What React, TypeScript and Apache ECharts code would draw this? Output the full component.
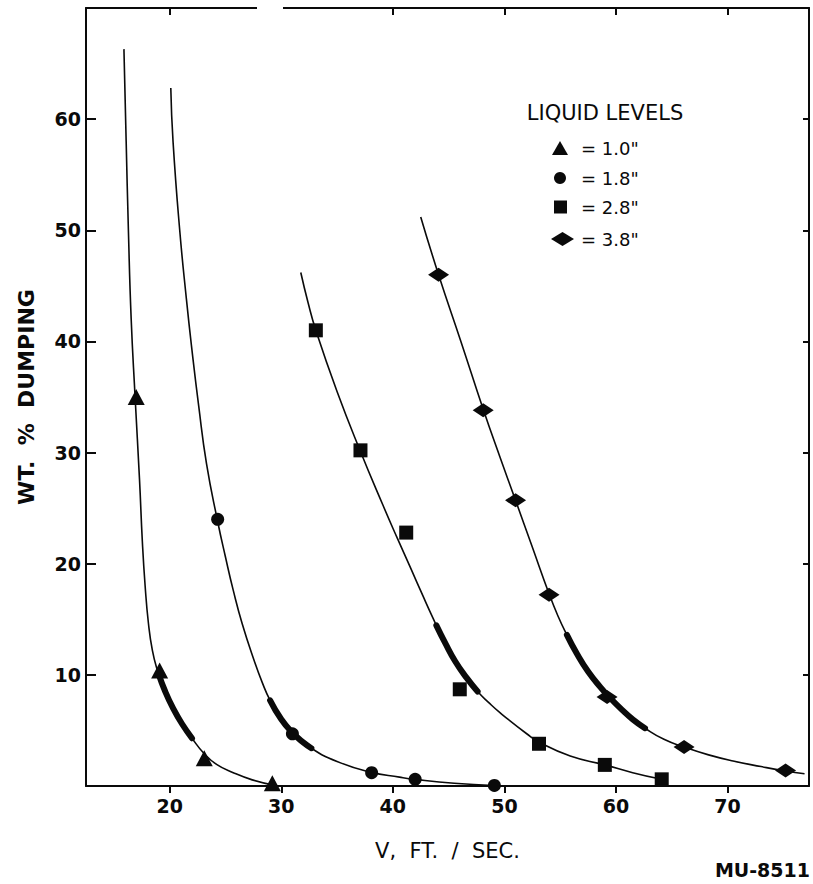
import React, { useEffect, useRef } from "react";
import * as echarts from "echarts";

const FONT = '"DejaVu Sans", Verdana, sans-serif';
const INK = "#0a0a0a";

// axis ticks / labels
const xTicks = [20, 30, 40, 50, 60, 70];
const xTopTicks = [20, 40, 50, 60, 70];
const yTicks = [10, 20, 30, 40, 50, 60];

// legend / series names
const seriesNames = ['1.0"', '1.8"', '2.8"', '3.8"'];

// measured points (V ft/sec, wt % dumping)
const pts10 = [[17, 35], [19.1, 10.4], [23.1, 2.5], [29.2, 0.25]];
const pts18 = [[24.3, 24], [31, 4.7], [38.1, 1.2], [42, 0.6], [49.1, 0.05]];
const pts28 = [[33.1, 41], [37.1, 30.2], [41.2, 22.8], [46, 8.7], [53.1, 3.8], [59, 1.9], [64.1, 0.6]];
const pts38 = [[44.1, 46], [48.1, 33.8], [51, 25.7], [54, 17.2], [59.2, 8], [66.1, 3.5], [75.2, 1.4]];

// faired curves
const curve10 = [[15.9, 66.3], [16.1, 58], [16.3, 50], [16.55, 42], [16.9, 35], [17.3, 27.5], [17.55, 22.0], [17.8, 18.0], [18.1, 14.6], [18.45, 12.2], [18.9, 10.4], [19.3, 9.3], [20.3, 7.0], [21.1, 5.6], [22.0, 4.3], [23.1, 2.9], [24.2, 1.95], [25.7, 1.2], [27.4, 0.55], [29.2, 0.1]];
const curve18 = [[20.1, 62.8], [20.3, 58], [20.9, 50], [21.5, 43.8], [22.0, 39.2], [22.6, 34.2], [23.3, 29.0], [24.3, 23.8], [25.0, 20.6], [25.7, 17.6], [26.5, 14.6], [27.6, 11.2], [28.3, 9.3], [29.0, 7.7], [30.0, 6.0], [31.0, 4.8], [32.7, 3.4], [35.0, 2.2], [38.0, 1.25], [40.6, 0.8], [42.0, 0.6], [45.5, 0.25], [49.0, 0.05]];
const curve28 = [[31.75, 46.2], [32.4, 43.5], [33.1, 41.0], [35.0, 35.5], [37.1, 30.1], [39.1, 25.3], [40.4, 22.3], [41.6, 19.6], [42.7, 17.1], [43.6, 15.1], [44.4, 13.4], [45.3, 11.7], [46.3, 10.1], [47.6, 8.5], [48.6, 7.5], [49.6, 6.6], [52.0, 4.7], [53.1, 3.95], [55.9, 2.7], [59.0, 1.9], [61.5, 1.2], [64.1, 0.6]];
const curve38 = [[42.5, 51.2], [44.1, 46.0], [46.1, 40.0], [48.1, 33.9], [49.6, 29.6], [51.0, 25.7], [52.5, 21.5], [54.0, 17.3], [54.8, 15.3], [55.6, 13.6], [56.5, 11.9], [57.5, 10.3], [58.6, 8.9], [59.5, 7.9], [60.5, 6.9], [61.5, 6.0], [62.6, 5.2], [64.3, 4.2], [66.1, 3.5], [68.3, 2.8], [70.5, 2.25], [73.0, 1.75], [75.2, 1.35], [76.9, 1.1]];

// heavy portions of the curves
const thick10 = [[19.0, 10.1], [19.6, 8.5], [20.3, 7.0], [21.1, 5.6], [22.0, 4.3]];
const thick18 = [[29.0, 7.7], [30.0, 6.0], [31.0, 4.8], [32.0, 3.9], [32.7, 3.4]];
const thick28 = [[43.9, 14.45], [44.7, 12.85], [45.6, 11.2], [46.6, 9.75], [47.6, 8.5]];
const thick38 = [[55.6, 13.6], [56.5, 11.9], [57.5, 10.3], [58.6, 8.9], [59.5, 7.9], [60.5, 6.9], [61.5, 6.0], [62.6, 5.2]];

const X_MIN = 12.5;
const X_MAX = 77.3;
const Y_MIN = 0;
const Y_MAX = 70;

function thinLine(data: number[][]) {
  return {
    type: "line",
    data,
    smooth: 0.5,
    symbol: "none",
    silent: true,
    z: 3,
    lineStyle: { color: INK, width: 1.6 },
  };
}
function thickLine(data: number[][]) {
  return {
    type: "line",
    data,
    smooth: 0.5,
    symbol: "none",
    silent: true,
    z: 4,
    lineStyle: { color: INK, width: 6, cap: "round" },
  };
}
function scatter(name: string, data: number[][], symbol: string, size: any) {
  return {
    type: "scatter",
    name,
    data,
    symbol,
    symbolSize: size,
    symbolKeepAspect: false,
    z: 6,
    itemStyle: { color: INK, opacity: 1 },
  };
}

function legendItem(name: string, top: number, left: number, w: number, h: number, pad: number) {
  return {
    data: [name],
    orient: "vertical",
    left,
    top,
    padding: 0,
    itemWidth: w,
    itemHeight: h,
    symbolKeepAspect: false,
    selectedMode: false,
    formatter: "= {name}",
    textStyle: { fontSize: 18, fontFamily: FONT, color: INK, padding: [0, 0, 0, pad] },
  };
}

const axisText = { fontSize: 19, fontWeight: "bold", fontFamily: FONT, color: INK };

export default function App() {
  const ref = useRef<HTMLDivElement>(null);
  useEffect(() => {
    if (!ref.current) return;
    const chart = echarts.init(ref.current, undefined, { renderer: "svg" });
    const option: any = {
      animation: false,
      backgroundColor: "#ffffff",
      grid: { left: 86, right: 4, top: 8, bottom: 98, outerBoundsMode: "none", containLabel: false },
      xAxis: [
        {
          type: "value",
          position: "bottom",
          min: X_MIN,
          max: X_MAX,
          axisLine: { show: true, onZero: false, lineStyle: { color: INK, width: 2 } },
          axisTick: { show: true, inside: false, length: 7, customValues: xTicks, lineStyle: { color: INK, width: 2 } },
          axisLabel: { ...axisText, customValues: xTicks, margin: 10 },
          splitLine: { show: false },
          name: "V,  FT.  /  SEC.",
          nameLocation: "middle",
          nameGap: 54,
          nameTextStyle: { fontSize: 21, fontFamily: FONT, color: INK },
        },
        {
          type: "value",
          position: "top",
          min: X_MIN,
          max: X_MAX,
          axisLine: { show: true, onZero: false, lineStyle: { color: INK, width: 2 } },
          axisTick: { show: true, inside: true, length: 7, customValues: xTopTicks, lineStyle: { color: INK, width: 2 } },
          axisLabel: { show: false },
          splitLine: { show: false },
        },
      ],
      yAxis: [
        {
          type: "value",
          position: "left",
          min: Y_MIN,
          max: Y_MAX,
          axisLine: { show: true, onZero: false, lineStyle: { color: INK, width: 2 } },
          axisTick: { show: true, inside: true, length: 10, customValues: yTicks, lineStyle: { color: INK, width: 2 } },
          axisLabel: { ...axisText, customValues: yTicks, margin: 5 },
          splitLine: { show: false },
          name: "WT.  %  DUMPING",
          nameLocation: "middle",
          nameGap: 49,
          nameRotate: 90,
          nameTextStyle: { fontSize: 22, fontWeight: "bold", fontFamily: FONT, color: INK },
        },
        {
          type: "value",
          position: "right",
          min: Y_MIN,
          max: Y_MAX,
          axisLine: { show: true, onZero: false, lineStyle: { color: INK, width: 2 } },
          axisTick: { show: true, inside: true, length: 6, customValues: yTicks, lineStyle: { color: INK, width: 2 } },
          axisLabel: { show: false },
          splitLine: { show: false },
        },
      ],
      legend: [
        legendItem(seriesNames[0], 139, 552, 16, 14, 8),
        legendItem(seriesNames[1], 169, 554, 12, 12, 10),
        legendItem(seriesNames[2], 198, 554, 13, 13, 9),
        legendItem(seriesNames[3], 230, 551, 23, 14, 2),
      ],
      graphic: [
        {
          type: "text",
          x: 605,
          y: 113,
          z: 10,
          style: {
            text: "LIQUID LEVELS",
            fill: INK,
            font: `21px ${FONT}`,
            textAlign: "center",
            textVerticalAlign: "middle",
          },
        },
        {
          type: "text",
          x: 810,
          y: 870,
          z: 10,
          style: {
            text: "MU-8511",
            fill: INK,
            font: `bold 19px ${FONT}`,
            textAlign: "right",
            textVerticalAlign: "middle",
          },
        },
        {
          type: "rect",
          z: 100,
          shape: { x: 257, y: 2, width: 26, height: 10 },
          style: { fill: "#ffffff" },
        },
      ],
      series: [
        thinLine(curve10),
        thinLine(curve18),
        thinLine(curve28),
        thinLine(curve38),
        thickLine(thick10),
        thickLine(thick18),
        thickLine(thick28),
        thickLine(thick38),
        scatter(seriesNames[0], pts10, "triangle", [17, 16]),
        scatter(seriesNames[1], pts18, "circle", 13),
        scatter(seriesNames[2], pts28, "rect", 14),
        scatter(seriesNames[3], pts38, "diamond", [21, 14]),
      ],
    };
    chart.setOption(option);
    return () => chart.dispose();
  }, []);
  return (
    <div
      ref={ref}
      style={{ position: "fixed", left: 0, top: 0, width: 813, height: 884, background: "#fff" }}
    />
  );
}
